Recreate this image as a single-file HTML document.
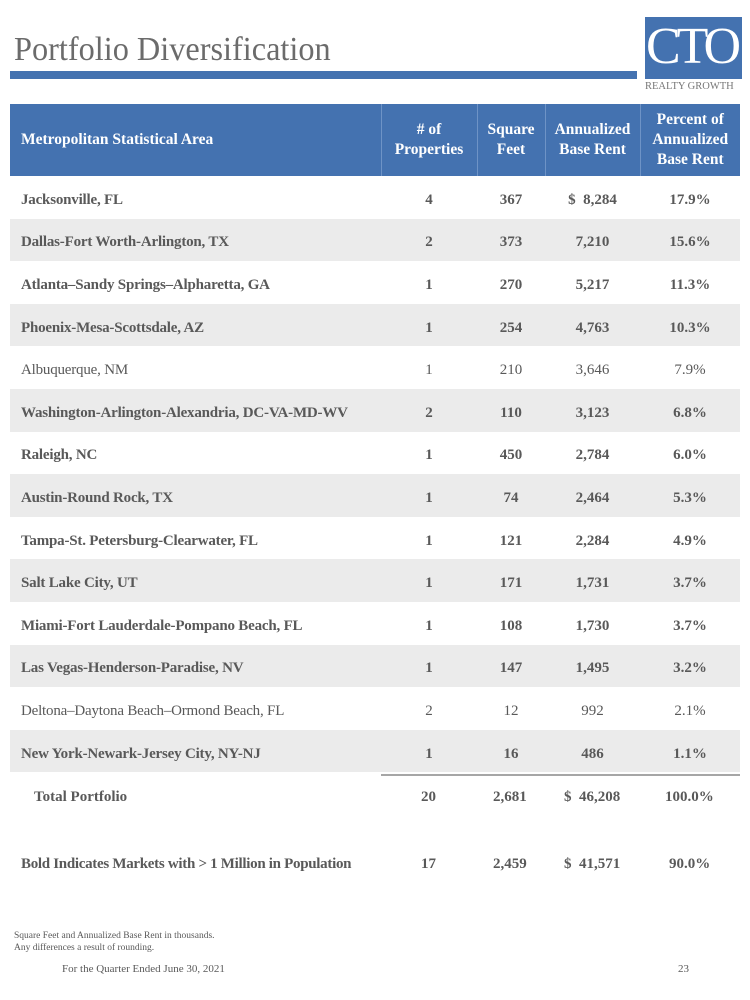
<!DOCTYPE html>
<html><head><meta charset="utf-8">
<style>
*{margin:0;padding:0;box-sizing:border-box}
body{width:750px;height:1000px;background:#fff;position:relative;overflow:hidden;font-family:"Liberation Serif",serif;color:#595959}
.abs{position:absolute}
#title{left:14px;top:31px;font-size:34px;color:#6b6b6b;white-space:nowrap;transform:scaleX(0.95);transform-origin:left}
#bar{left:10px;top:71px;width:627px;height:8px;background:#4472b0}
#logo{left:645px;top:17px;width:97px;height:62px;background:#4472b0}
#logo span{position:absolute;left:1px;top:2px;color:#fff;font-size:52px;letter-spacing:-4px;line-height:56px}
#rg{left:645px;top:81px;font-size:10.5px;color:#777;white-space:nowrap}
table{position:absolute;left:10px;top:104px;width:730px;border-collapse:collapse}
th{background:#4472b0;color:#fff;font-size:15.5px;font-weight:bold;height:72px;line-height:20px;border-left:1px solid #6e93c6;text-align:center}
th:first-child{text-align:left;padding-left:11px;border-left:none}
td{height:42.6px;font-size:15px;text-align:center;font-weight:bold;padding-top:6px}
td:first-child{text-align:left;padding-left:11px;letter-spacing:-0.2px}
tr.g td{background:#ebebeb}
tr.n td{font-weight:normal}
#line{left:381px;top:774px;width:359px;height:2px;background:#a6a6a6}
.b{font-weight:bold;font-size:15px;white-space:nowrap}
.s{font-size:9.5px;white-space:nowrap}
</style></head><body>
<div class="abs" id="title">Portfolio Diversification</div>
<div class="abs" id="bar"></div>
<div class="abs" id="logo"><span>CTO</span></div>
<div class="abs" id="rg">REALTY GROWTH</div>
<table>
<colgroup><col style="width:371px"><col style="width:96px"><col style="width:68px"><col style="width:95px"><col style="width:100px"></colgroup>
<tr><th>Metropolitan Statistical Area</th><th># of<br>Properties</th><th>Square<br>Feet</th><th>Annualized<br>Base Rent</th><th>Percent of<br>Annualized<br>Base Rent</th></tr>
<tr><td>Jacksonville, FL</td><td>4</td><td>367</td><td>$&nbsp; 8,284</td><td>17.9%</td></tr>
<tr class="g"><td>Dallas-Fort Worth-Arlington, TX</td><td>2</td><td>373</td><td>7,210</td><td>15.6%</td></tr>
<tr><td>Atlanta–Sandy Springs–Alpharetta, GA</td><td>1</td><td>270</td><td>5,217</td><td>11.3%</td></tr>
<tr class="g"><td>Phoenix-Mesa-Scottsdale, AZ</td><td>1</td><td>254</td><td>4,763</td><td>10.3%</td></tr>
<tr class="n"><td>Albuquerque, NM</td><td>1</td><td>210</td><td>3,646</td><td>7.9%</td></tr>
<tr class="g"><td>Washington-Arlington-Alexandria, DC-VA-MD-WV</td><td>2</td><td>110</td><td>3,123</td><td>6.8%</td></tr>
<tr><td>Raleigh, NC</td><td>1</td><td>450</td><td>2,784</td><td>6.0%</td></tr>
<tr class="g"><td>Austin-Round Rock, TX</td><td>1</td><td>74</td><td>2,464</td><td>5.3%</td></tr>
<tr><td>Tampa-St. Petersburg-Clearwater, FL</td><td>1</td><td>121</td><td>2,284</td><td>4.9%</td></tr>
<tr class="g"><td>Salt Lake City, UT</td><td>1</td><td>171</td><td>1,731</td><td>3.7%</td></tr>
<tr><td>Miami-Fort Lauderdale-Pompano Beach, FL</td><td>1</td><td>108</td><td>1,730</td><td>3.7%</td></tr>
<tr class="g"><td>Las Vegas-Henderson-Paradise, NV</td><td>1</td><td>147</td><td>1,495</td><td>3.2%</td></tr>
<tr class="n"><td>Deltona–Daytona Beach–Ormond Beach, FL</td><td>2</td><td>12</td><td>992</td><td>2.1%</td></tr>
<tr class="g"><td>New York-Newark-Jersey City, NY-NJ</td><td>1</td><td>16</td><td>486</td><td>1.1%</td></tr>
</table>
<div class="abs" id="line"></div>
<div>
<div class="abs b" style="left:34px;top:789px">Total Portfolio</div>
<div class="abs b" style="left:421px;top:789px">20</div>
<div class="abs b" style="left:493px;top:789px">2,681</div>
<div class="abs b" style="left:564px;top:789px">$&nbsp; 46,208</div>
<div class="abs b" style="left:665px;top:789px">100.0%</div>
</div>
<div>
<div class="abs b" style="left:21px;top:856px;letter-spacing:-0.3px">Bold Indicates Markets with &gt; 1 Million in Population</div>
<div class="abs b" style="left:421px;top:856px">17</div>
<div class="abs b" style="left:493px;top:856px">2,459</div>
<div class="abs b" style="left:564px;top:856px">$&nbsp; 41,571</div>
<div class="abs b" style="left:669px;top:856px">90.0%</div>
</div>
<div class="abs s" style="left:14px;top:931px">Square Feet and Annualized Base Rent in thousands.</div>
<div class="abs s" style="left:14px;top:943px">Any differences a result of rounding.</div>
<div class="abs" style="left:62px;top:963px;font-size:11px;white-space:nowrap">For the Quarter Ended June 30, 2021</div>
<div class="abs" style="left:678px;top:963px;font-size:11px">23</div>
</body></html>
